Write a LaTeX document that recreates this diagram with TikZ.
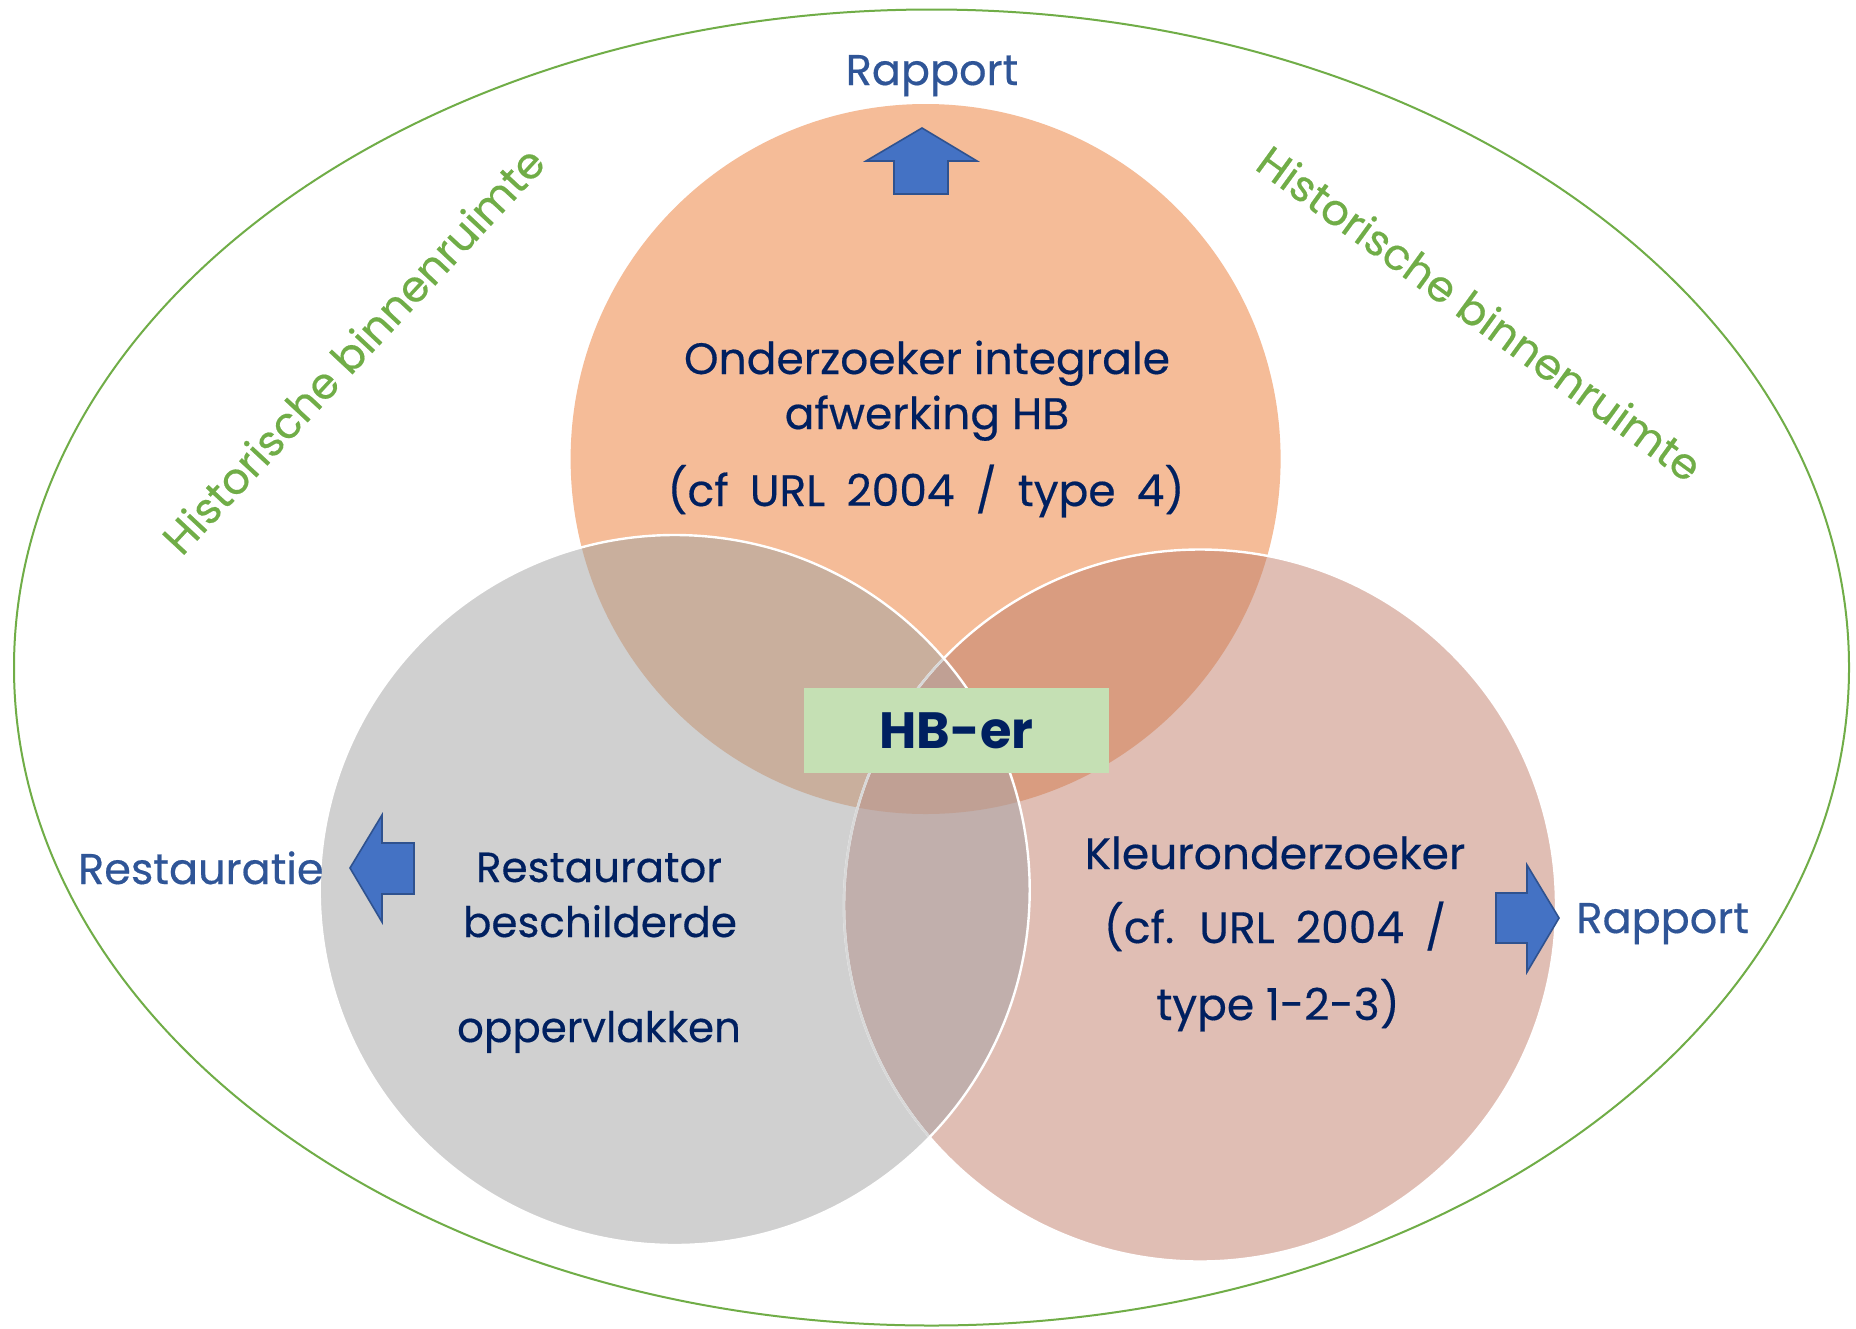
\documentclass[tikz,border=0pt]{standalone}
\usepackage{fontspec}
\setmainfont{Poppins}
\definecolor{orng}{HTML}{F5BC98}
\definecolor{gry}{HTML}{D0D0D0}
\definecolor{pnk}{HTML}{E0BEB4}
\definecolor{og}{HTML}{C9AF9D}
\definecolor{op}{HTML}{D99C80}
\definecolor{gp}{HTML}{C1AFAC}
\definecolor{ogp}{HTML}{C0A094}
\definecolor{navy}{HTML}{002060}
\definecolor{lblue}{HTML}{2F5597}
\definecolor{arrfill}{HTML}{4472C4}
\definecolor{arrline}{HTML}{2F528F}
\definecolor{grn}{HTML}{70AD47}
\definecolor{boxgrn}{HTML}{C5E0B4}
\definecolor{lineg}{HTML}{D8D8D8}
\tikzset{
  txt/.style={font=\fontsize{21pt}{25pt}\selectfont\addfontfeatures{FakeBold=0.4}, text=navy, inner sep=0pt, anchor=base},
  txtb/.style={txt, font=\fontsize{22pt}{25pt}\selectfont\addfontfeatures{FakeBold=0.4}},
  txtw/.style={txtb, execute at begin node={\spaceskip=0.48em\relax}},
  lbl/.style={font=\fontsize{21.5pt}{25pt}\selectfont\addfontfeatures{FakeBold=0.4}, text=lblue, inner sep=0pt},
  hist/.style={font=\fontsize{21.5pt}{25pt}\selectfont\addfontfeatures{FakeBold=0.4}, text=grn, inner sep=0pt},
  blockarrow/.style={fill=arrfill, draw=arrline, line width=0.8pt, line join=miter},
  ring/.style={draw=white, line width=1.2pt},
}
\begin{document}
\begin{tikzpicture}[x=0.5pt,y=-0.5pt]
\useasboundingbox (0,0) rectangle (1856,1328);
\fill[white] (0,0) rectangle (1856,1328);
\coordinate (ce) at (931.5,667.5);
\coordinate (co) at (925.6,459);
\coordinate (cg) at (674.7,890);
\coordinate (cp) at (1200,905.5);
% outer ellipse
\draw[grn, line width=1pt] (ce) ellipse[x radius=458.75pt, y radius=329pt];
% circles
\fill[orng] (co) circle[radius=177.5pt];
\fill[pnk] (cp) circle[radius=178pt];
\fill[gry] (cg) circle[radius=177.5pt];
\begin{scope}
  \clip (co) circle[radius=177.5pt];
  \fill[og] (cg) circle[radius=177.5pt];
  \fill[op] (cp) circle[radius=178pt];
\end{scope}
\begin{scope}
  \clip (cg) circle[radius=177.5pt];
  \fill[gp] (cp) circle[radius=178pt];
  \clip (co) circle[radius=177.5pt];
  \fill[ogp] (cp) circle[radius=178pt];
\end{scope}
\draw[ring] (cp) circle[radius=178pt];
\begin{scope}
  \clip (cg) circle[radius=177.5pt];
  \draw[lineg, line width=1.2pt] (cp) circle[radius=178pt];
\end{scope}
\draw[ring] (cg) circle[radius=177.5pt];
% green box
\node[fill=boxgrn, minimum width=152.5pt, minimum height=42.5pt, inner sep=0pt,
      font=\fontsize{25.5pt}{30pt}\selectfont\bfseries, text=navy] (hb) at (956.5,730.5) {HB-er};
% texts top circle
\node[txtb] (o1) at (927,374) {Onderzoeker integrale};
\node[txtb] (o2) at (927,429) {afwerking HB};
\node[txtw] (o3) at (926,506) {(cf URL 2004 / type 4)};
% left circle
\node[txt] (r1) at (599,882) {Restaurator};
\node[txt] (r2) at (600,937) {beschilderde};
\node[txt] (r3) at (599,1042) {oppervlakken};
% right circle
\node[txtb] (k1) at (1275,869) {Kleuronderzoeker};
\node[txtw] (k2) at (1275,943) {(cf. URL 2004 /};
\node[txtb] (k3) at (1278,1020) {type 1-2-3)};
% labels
\node[lbl, anchor=base] (rap1) at (932,85) {Rapport};
\node[lbl, anchor=base west] (rap2) at (1576,933) {Rapport};
\node[lbl, anchor=base east] (rest) at (324,884) {Restauratie};
\node[hist, rotate=47] (h1) at (353,350) {Historische binnenruimte};
\node[hist, rotate=-36] (h2) at (1480,313) {Historische binnenruimte};
% block arrows
\draw[blockarrow] (922,128) -- (977,161) -- (948,161) -- (948,194) -- (894,194) -- (894,161) -- (866,161) -- cycle;
\draw[blockarrow] (1496,893) -- (1527,893) -- (1527,865) -- (1559,918) -- (1527,972) -- (1527,943) -- (1496,943) -- cycle;
\draw[blockarrow] (350,868) -- (382,815) -- (382,843) -- (414,843) -- (414,894) -- (382,894) -- (382,922) -- cycle;
\end{tikzpicture}
\end{document}
